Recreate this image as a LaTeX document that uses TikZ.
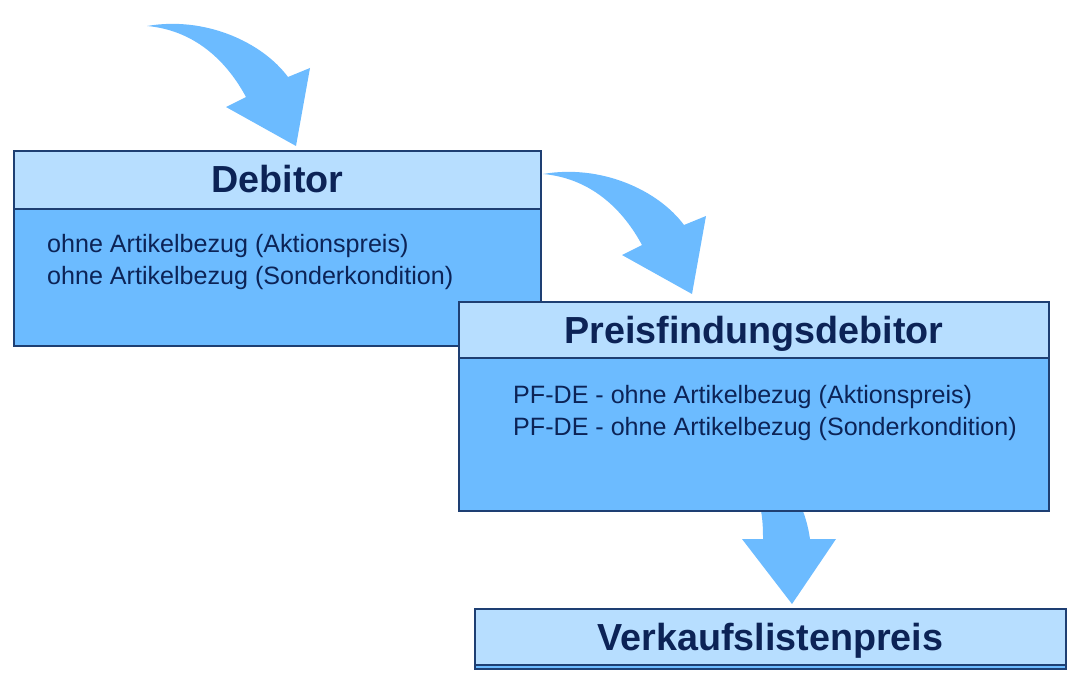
\documentclass[tikz,border=0pt]{standalone}
\usepackage{fontspec}
\setmainfont{Liberation Sans}
\definecolor{hdr}{HTML}{B7DEFF}
\definecolor{bdy}{HTML}{6CBBFF}
\definecolor{brd}{HTML}{1E3F73}
\definecolor{txt}{HTML}{0C2356}
\tikzset{
  hdrbox/.style={rectangle, fill=hdr, draw=brd, line width=1.3pt, anchor=north west, inner sep=0pt, outer sep=0pt},
  bdybox/.style={rectangle, fill=bdy, draw=brd, line width=1.3pt, anchor=north west, inner sep=0pt, outer sep=0pt},
  titletxt/.style={text=txt, font=\fontsize{37.7}{44}\selectfont\bfseries, inner sep=0pt, anchor=base},
  bodytxt/.style={text=txt, font=\fontsize{25.1}{32}\selectfont, inner sep=0pt, anchor=base west},
  blockarrow/.style={fill=bdy, draw=none}
}
\begin{document}
\begin{tikzpicture}[x=1pt,y=-1pt]
\useasboundingbox (0,0) rectangle (1077,682);
% curved arrow 1
\fill[blockarrow] (147,26) .. controls (205,16) and (262,42) .. (288,77)
  -- (310,68) -- (296,146) -- (226,107) -- (246,97)
  .. controls (225,58) and (192,30) .. (147,26) -- cycle;
% Debitor box
\node[bdybox, minimum width=527pt, minimum height=137pt] (debB) at (14,209) {};
\node[hdrbox, minimum width=527pt, minimum height=58pt] (debH) at (14,151) {};
\node[titletxt] (debT) at (277.5,193) {Debitor};
\node[bodytxt] (debL1) at (47,252) {ohne Artikelbezug (Aktionspreis)};
\node[bodytxt] (debL2) at (47,284) {ohne Artikelbezug (Sonderkondition)};
% curved arrow 2
\fill[blockarrow] (543,174) .. controls (601,164) and (658,190) .. (684,225)
  -- (706,216) -- (692,294) -- (622,255) -- (642,245)
  .. controls (621,206) and (588,178) .. (543,174) -- cycle;
% down arrow 3
\fill[blockarrow] (760,505) .. controls (763,520) and (763,530) .. (763,539)
  -- (742,539) -- (792,604) -- (836,539) -- (810,539)
  .. controls (808,525) and (804,512) .. (800,505) -- cycle;
% Preisfindungsdebitor box
\node[bdybox, minimum width=590pt, minimum height=153pt] (pfB) at (459,358) {};
\node[hdrbox, minimum width=590pt, minimum height=56pt] (pfH) at (459,302) {};
\node[titletxt] (pfT) at (754,343) {Preisfindungsdebitor};
\node[bodytxt] (pfL1) at (513,403) {PF-DE - ohne Artikelbezug (Aktionspreis)};
\node[bodytxt] (pfL2) at (513,435) {PF-DE - ohne Artikelbezug (Sonderkondition)};
% Verkaufslistenpreis box
\node[bdybox, minimum width=591pt, minimum height=4pt] (vkB) at (475,665) {};
\node[hdrbox, minimum width=591pt, minimum height=56pt] (vkH) at (475,609) {};
\node[titletxt] (vkT) at (770.5,650) {Verkaufslistenpreis};
\end{tikzpicture}
\end{document}
